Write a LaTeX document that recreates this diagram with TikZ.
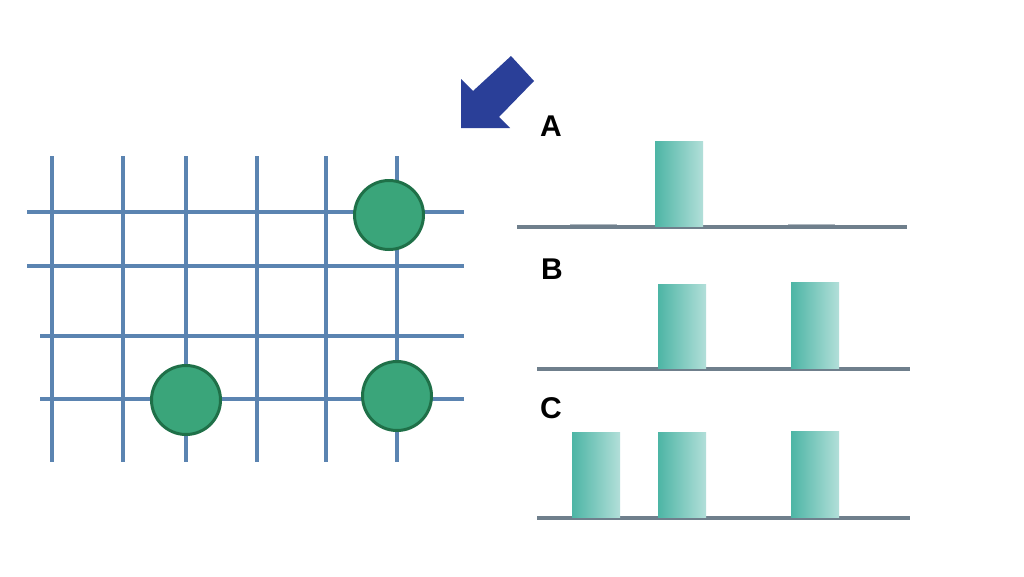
\documentclass[tikz,border=0pt]{standalone}
\usepackage{fontspec}
\setsansfont{Liberation Sans}
\usetikzlibrary{positioning}
\definecolor{gridblue}{HTML}{5B84B1}
\definecolor{dotgreen}{HTML}{3AA57A}
\definecolor{dotedge}{HTML}{1F7048}
\definecolor{arrowblue}{HTML}{2A3F98}
\definecolor{axisgray}{HTML}{6F7F8C}
\definecolor{barleft}{HTML}{4DB5A5}
\definecolor{barright}{HTML}{B2DFD9}

\begin{document}
\begin{tikzpicture}[x=1pt, y=-1pt,
		gridline/.style={draw=gridblue, line width=3.5pt},
		dot/.style={circle, fill=dotgreen, draw=dotedge, line width=3pt, minimum size=69pt, inner sep=0pt},
		axis/.style={draw=axisgray, line width=3.2pt},
		stub/.style={draw=axisgray!55, line width=2.5pt},
		bar/.style={rectangle, anchor=south, left color=barleft, right color=barright, minimum width=48pt, inner sep=0pt},
		tag/.style={font=\sffamily\bfseries\fontsize{30}{32}\selectfont, inner sep=0pt}
	]
	\useasboundingbox[fill=white] (0,0) rectangle (1024,576);
	% the grid
	\foreach \gx in {52,123,186,257,326,397}
		\draw[gridline] (\gx,156) -- (\gx,462);
	\draw[gridline] (27,212) -- (464,212);
	\draw[gridline] (27,266) -- (464,266);
	\draw[gridline] (40,336) -- (464,336);
	\draw[gridline] (40,399) -- (464,399);
	\node[dot] (dottop) at (389,215) {};
	\node[dot] (dotleft) at (186,400) {};
	\node[dot] (dotright) at (397,396) {};
	% the arrow
	\fill[arrowblue] (461,128) -- (461,79) -- (473,91) -- (511,56) -- (534,81)
		-- (499,117) -- (510,128) -- cycle;
	% the three charts
	\node[tag] (taga) at (551,126) {A};
	\node[tag] (tagb) at (552,269) {B};
	\node[tag] (tagc) at (551,408) {C};
	\draw[stub] (570,225) -- (617,225);
	\draw[stub] (788,225) -- (835,225);
	\draw[axis] (517,227) -- (907,227);
	\draw[axis] (537,369) -- (910,369);
	\draw[axis] (537,518) -- (910,518);
	\node[bar, minimum height=85pt] (bara) at (679,227) {};
	\node[bar, minimum height=84pt] (barbone) at (682,369) {};
	\node[bar, minimum height=86pt] (barbtwo) at (815,369) {};
	\node[bar, minimum height=85pt] (barcone) at (596,518) {};
	\node[bar, minimum height=85pt] (barctwo) at (682,518) {};
	\node[bar, minimum height=86pt] (barcthree) at (815,518) {};
\end{tikzpicture}
\end{document}
